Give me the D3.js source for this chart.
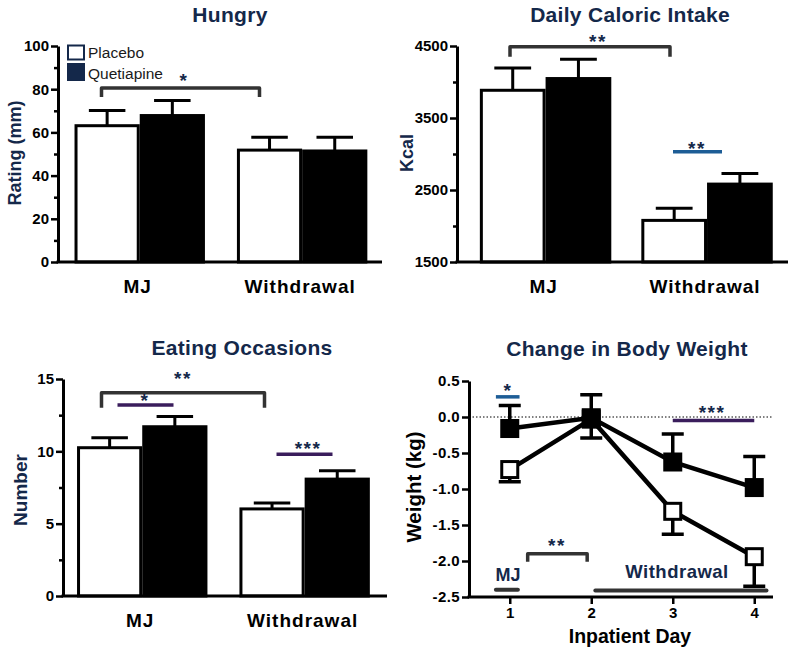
<!DOCTYPE html>
<html>
<head>
<meta charset="utf-8">
<script src="https://cdn.jsdelivr.net/npm/d3@7"></script>
<style>
  html, body { margin: 0; padding: 0; background: #fff; }
  svg { display: block; }
</style>
</head>
<body>
<svg id="chart" width="800" height="655"></svg>
<script>
// ---------- DATA ----------
const groups = ["MJ", "Withdrawal"];
const seriesNames = ["Placebo", "Quetiapine"];

const hungryPlacebo = [63.1, 51.8];
const hungryPlaceboErr = [7.0, 6.0];
const hungryQuetiapine = [67.8, 51.4];
const hungryQuetiapineErr = [7.0, 6.3];
const hungryTicks = [0, 20, 40, 60, 80, 100];
const hungryMinor = [10, 30, 50, 70, 90];

const kcalPlacebo = [3885, 2078];
const kcalPlaceboErr = [310, 167];
const kcalQuetiapine = [4048, 2582];
const kcalQuetiapineErr = [268, 148];
const kcalTicks = [1500, 2500, 3500, 4500];
const kcalMinor = [2000, 3000, 4000];

const eatPlacebo = [10.25, 6.02];
const eatPlaceboErr = [0.69, 0.40];
const eatQuetiapine = [11.70, 8.08];
const eatQuetiapineErr = [0.70, 0.58];
const eatTicks = [0, 5, 10, 15];
const eatMinor = [2.5, 7.5, 12.5];

const days = [1, 2, 3, 4];
const weightPlacebo = [-0.73, -0.03, -1.31, -1.94];
const weightPlaceboErr = [0.17, 0.26, 0.32, 0.41];
const weightQuetiapine = [-0.16, -0.01, -0.625, -0.98];
const weightQuetiapineErr = [0.32, 0.32, 0.39, 0.43];
const weightTicks = [0.5, 0.0, -0.5, -1.0, -1.5, -2.0, -2.5];

// ---------- STYLE ----------
const FONT = "'Liberation Sans', Arial, Helvetica, sans-serif";
const NAVY = "#14284a";
const BLUE = "#1d5d96";
const PURPLE = "#3a1d5c";
const GRAY = "#333333";

const svg = d3.select("#chart");

function title(x, y, text) {
  svg.append("text").attr("x", x).attr("y", y).attr("text-anchor", "middle")
    .attr("font-family", FONT).attr("font-weight", "bold").attr("font-size", 21)
    .attr("letter-spacing", 0.3).attr("fill", NAVY).text(text);
}
function yLabel(x, y, text, color, size) {
  svg.append("text").attr("transform", `translate(${x},${y}) rotate(-90)`)
    .attr("text-anchor", "middle").attr("font-family", FONT).attr("font-weight", "bold")
    .attr("font-size", size).attr("fill", color).text(text);
}
function stars(x, cy, text) {
  svg.append("text").attr("x", x).attr("y", cy + 10).attr("text-anchor", "middle")
    .attr("font-family", FONT).attr("font-weight", "bold").attr("font-size", 19)
    .attr("letter-spacing", 1.5).attr("fill", NAVY).text(text);
}
function hline(x1, x2, y, color, w) {
  svg.append("line").attr("x1", x1).attr("x2", x2).attr("y1", y).attr("y2", y)
    .attr("stroke", color).attr("stroke-width", w);
}
function bracket(x1, x2, y, drop) {
  svg.append("path")
    .attr("d", `M${x1},${y + drop} L${x1},${y} L${x2},${y} L${x2},${y + drop}`)
    .attr("fill", "none").attr("stroke", GRAY).attr("stroke-width", 3.5)
    .attr("stroke-linejoin", "round");
}
function styleYAxis(g, fontSize) {
  g.select(".domain").attr("stroke", "#000").attr("stroke-width", 3);
  g.selectAll(".tick line").attr("stroke", "#000").attr("stroke-width", 2.5);
  g.selectAll(".tick text").attr("font-family", FONT).attr("font-weight", "bold")
    .attr("font-size", fontSize).attr("fill", "#000");
}

function barPanel(cfg) {
  const y = d3.scaleLinear().domain(cfg.domain).range([cfg.bottom, cfg.top]);
  const x0 = d3.scaleBand().domain(groups).range([cfg.left, cfg.right])
    .paddingInner(cfg.pi).paddingOuter(cfg.po).align(cfg.align);
  const x1 = d3.scaleBand().domain(seriesNames).range([0, x0.bandwidth()]);

  const rows = [];
  groups.forEach((g, i) => {
    rows.push({ g, s: "Placebo", v: cfg.placebo[i], e: cfg.placeboErr[i] });
    rows.push({ g, s: "Quetiapine", v: cfg.quet[i], e: cfg.quetErr[i] });
  });

  const plot = svg.append("g");
  const capW = x1.bandwidth() * 0.56;
  // error bars
  plot.selectAll(".err").data(rows).enter().append("path")
    .attr("d", d => {
      const cx = x0(d.g) + x1(d.s) + x1.bandwidth() / 2;
      const yt = y(d.v + d.e);
      return `M${cx},${y(d.v)} L${cx},${yt} M${cx - capW / 2},${yt} L${cx + capW / 2},${yt}`;
    })
    .attr("fill", "none").attr("stroke", "#000").attr("stroke-width", 3);
  // bars
  plot.selectAll(".bar").data(rows).enter().append("rect")
    .attr("x", d => x0(d.g) + x1(d.s) + 1.5)
    .attr("width", x1.bandwidth() - 3)
    .attr("y", d => y(d.v))
    .attr("height", d => y(cfg.domain[0]) - y(d.v))
    .attr("fill", d => d.s === "Placebo" ? "#fff" : "#000")
    .attr("stroke", "#000").attr("stroke-width", 3);

  // y axis
  const ga = svg.append("g").attr("transform", `translate(${cfg.left},0)`)
    .call(d3.axisLeft(y).tickValues(cfg.ticks).tickSize(7).tickSizeOuter(0).tickPadding(2)
      .tickFormat(d3.format("d")));
  styleYAxis(ga, 15);
  const gm = svg.append("g").attr("transform", `translate(${cfg.left},0)`)
    .call(d3.axisLeft(y).tickValues(cfg.minor).tickSize(4).tickFormat(""));
  gm.select(".domain").remove();
  gm.selectAll(".tick line").attr("stroke", "#000").attr("stroke-width", 2.5);

  // x axis
  const gx = svg.append("g").attr("transform", `translate(0,${cfg.bottom})`)
    .call(d3.axisBottom(x0).tickSize(0).tickSizeOuter(0).tickPadding(18));
  gx.select(".domain").attr("d", `M${cfg.left - 1.5},0H${cfg.right}`)
    .attr("stroke", "#000").attr("stroke-width", 3);
  gx.selectAll(".tick text").attr("font-family", FONT).attr("font-weight", "bold")
    .attr("font-size", 19).attr("letter-spacing", 1).attr("fill", "#000")
    .attr("dx", -2);
  return { x0, x1, y };
}

// ---------- Panel 1: Hungry ----------
title(230, 22, "Hungry");
const p1 = barPanel({
  left: 58, right: 382, top: 46, bottom: 262, domain: [0, 100],
  ticks: hungryTicks, minor: hungryMinor, pi: 0.197, po: 0.096, align: 0.53,
  placebo: hungryPlacebo, placeboErr: hungryPlaceboErr,
  quet: hungryQuetiapine, quetErr: hungryQuetiapineErr
});
yLabel(21, 153, "Rating (mm)", NAVY, 18);
bracket(101.5, 259.5, p1.y(80.5), 9);
stars(184, 77, "*");
// legend
svg.append("rect").attr("x", 68).attr("y", 45.5).attr("width", 16).attr("height", 14)
  .attr("fill", "#fff").attr("stroke", NAVY).attr("stroke-width", 2);
svg.append("rect").attr("x", 67).attr("y", 63).attr("width", 18).attr("height", 18)
  .attr("fill", NAVY);
svg.append("text").attr("x", 88).attr("y", 58).attr("font-family", FONT)
  .attr("font-size", 15.5).attr("fill", "#1a1a1a").text(seriesNames[0]);
svg.append("text").attr("x", 88).attr("y", 79).attr("font-family", FONT)
  .attr("font-size", 15.5).attr("fill", "#1a1a1a").text(seriesNames[1]);

// ---------- Panel 2: Daily Caloric Intake ----------
title(630, 22, "Daily Caloric Intake");
const p2 = barPanel({
  left: 457, right: 788, top: 46, bottom: 262, domain: [1500, 4500],
  ticks: kcalTicks, minor: kcalMinor, pi: 0.186, po: 0.118, align: 0.6,
  placebo: kcalPlacebo, placeboErr: kcalPlaceboErr,
  quet: kcalQuetiapine, quetErr: kcalQuetiapineErr
});
yLabel(413, 153, "Kcal", NAVY, 18);
bracket(510, 670, p2.y(4490), 10);
stars(598, 38, "**");
hline(673, 722, p2.y(3030), BLUE, 3.5);
stars(697, 145, "**");

// ---------- Panel 3: Eating Occasions ----------
title(242, 355, "Eating Occasions");
const p3 = barPanel({
  left: 63, right: 387, top: 379, bottom: 596, domain: [0, 15],
  ticks: eatTicks, minor: eatMinor, pi: 0.197, po: 0.096, align: 0.45,
  placebo: eatPlacebo, placeboErr: eatPlaceboErr,
  quet: eatQuetiapine, quetErr: eatQuetiapineErr
});
yLabel(27, 490, "Number", NAVY, 19);
bracket(101.5, 264.5, p3.y(14.05), 15);
stars(183, 375, "**");
hline(117.5, 173.5, p3.y(13.2), PURPLE, 3.5);
stars(145, 397, "*");
hline(276.5, 332.5, p3.y(9.8), PURPLE, 3.5);
stars(308, 445, "***");

// ---------- Panel 4: Change in Body Weight ----------
title(627, 356, "Change in Body Weight");
const xw = d3.scaleLinear().domain([0.5, 4.23]).range([469, 773]);
const yw = d3.scaleLinear().domain([-2.5, 0.5]).range([597, 381]);

// dotted zero line
svg.append("line").attr("x1", xw(0.5)).attr("x2", xw(4.23)).attr("y1", yw(0)).attr("y2", yw(0))
  .attr("stroke", "#000").attr("stroke-width", 1).attr("stroke-dasharray", "1.5,2");

const wP = days.map((d, i) => ({ d, v: weightPlacebo[i], e: weightPlaceboErr[i] }));
const wQ = days.map((d, i) => ({ d, v: weightQuetiapine[i], e: weightQuetiapineErr[i] }));
const line = d3.line().x(d => xw(d.d)).y(d => yw(d.v));
svg.append("path").attr("d", line(wP)).attr("fill", "none").attr("stroke", "#000").attr("stroke-width", 4.5);
svg.append("path").attr("d", line(wQ)).attr("fill", "none").attr("stroke", "#000").attr("stroke-width", 4.5);

const capWW = 22;
function errPath(d, dir) {
  const cx = xw(d.d), y2 = yw(d.v + dir * d.e);
  return `M${cx},${yw(d.v)} L${cx},${y2} M${cx - capWW / 2},${y2} L${cx + capWW / 2},${y2}`;
}
svg.selectAll(".errP").data(wP).enter().append("path").attr("d", d => errPath(d, -1))
  .attr("fill", "none").attr("stroke", "#000").attr("stroke-width", 3.5);
svg.selectAll(".errQ").data(wQ).enter().append("path").attr("d", d => errPath(d, 1))
  .attr("fill", "none").attr("stroke", "#000").attr("stroke-width", 3.5);

const ms = 16;
svg.selectAll(".mP").data(wP).enter().append("rect")
  .attr("x", d => xw(d.d) - ms / 2).attr("y", d => yw(d.v) - ms / 2)
  .attr("width", ms).attr("height", ms).attr("fill", "#fff").attr("stroke", "#000").attr("stroke-width", 3);
svg.selectAll(".mQ").data(wQ).enter().append("rect")
  .attr("x", d => xw(d.d) - ms / 2).attr("y", d => yw(d.v) - ms / 2)
  .attr("width", ms).attr("height", ms).attr("fill", "#000").attr("stroke", "#000").attr("stroke-width", 3);

// axes
const gwy = svg.append("g").attr("transform", `translate(${xw(0.5)},0)`)
  .call(d3.axisLeft(yw).tickValues(weightTicks).tickSize(7).tickSizeOuter(0).tickPadding(2)
    .tickFormat(d => d.toFixed(1)));
styleYAxis(gwy, 15);
gwy.selectAll(".tick text").attr("letter-spacing", 0.4);
const gwx = svg.append("g").attr("transform", `translate(0,${yw(-2.5)})`)
  .call(d3.axisBottom(xw).tickValues(days).tickSize(7).tickSizeOuter(0).tickPadding(3)
    .tickFormat(d3.format("d")));
gwx.select(".domain").attr("d", `M${xw(0.5) - 1.5},0H${xw(4.23)}`)
  .attr("stroke", "#000").attr("stroke-width", 3);
gwx.selectAll(".tick line").attr("stroke", "#000").attr("stroke-width", 2.5);
gwx.selectAll(".tick text").attr("font-family", FONT).attr("font-weight", "bold")
  .attr("font-size", 15).attr("fill", "#000");

yLabel(421, 487, "Weight (kg)", "#000", 20.5);
svg.append("text").attr("x", 630).attr("y", 643).attr("text-anchor", "middle")
  .attr("font-family", FONT).attr("font-weight", "bold").attr("font-size", 19.5)
  .attr("fill", "#000").text("Inpatient Day");

// annotations
hline(xw(0.83), xw(1.12), yw(0.28), BLUE, 3.5);
stars(508, 387, "*");
hline(xw(3.0), xw(4.0), yw(-0.05), PURPLE, 3.5);
stars(712, 409, "***");
bracket(xw(1.22), xw(1.95), yw(-1.90), 8);
stars(557, 542, "**");
svg.append("line").attr("x1", xw(0.83)).attr("x2", xw(1.1)).attr("y1", yw(-2.4)).attr("y2", yw(-2.4))
  .attr("stroke", GRAY).attr("stroke-width", 4).attr("stroke-linecap", "round");
svg.append("line").attr("x1", xw(2.05)).attr("x2", xw(4.15)).attr("y1", yw(-2.41)).attr("y2", yw(-2.41))
  .attr("stroke", GRAY).attr("stroke-width", 4).attr("stroke-linecap", "round");
svg.append("text").attr("x", xw(0.98)).attr("y", 581).attr("text-anchor", "middle")
  .attr("font-family", FONT).attr("font-weight", "bold").attr("font-size", 18)
  .attr("fill", NAVY).text("MJ");
svg.append("text").attr("x", 677).attr("y", 578).attr("text-anchor", "middle")
  .attr("font-family", FONT).attr("font-weight", "bold").attr("font-size", 18.5)
  .attr("letter-spacing", 0.5).attr("fill", NAVY).text("Withdrawal");
</script>
</body>
</html>
